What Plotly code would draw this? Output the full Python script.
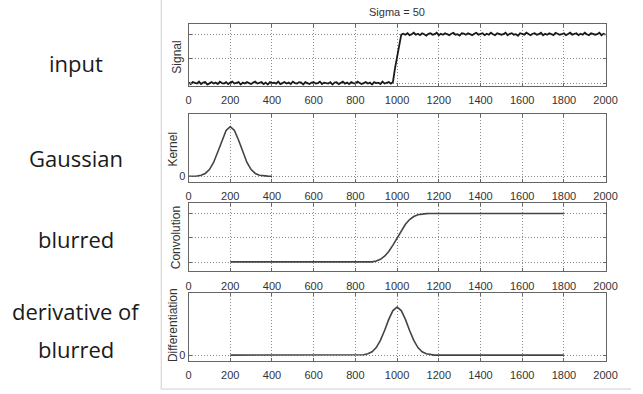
import plotly.graph_objects as go

W, H = 643, 394

# ---------------- data ----------------
x_ticks = [0, 200, 400, 600, 800, 1000, 1200, 1400, 1600, 1800, 2000]
x_tick_text = ["0", "200", "400", "600", "800", "1000", "1200", "1400", "1600", "1800", "2000"]

# input signal sampled every 10 (x = 0..2000)
signal_x = list(range(0, 2001, 10))
signal_low = [
    0.01, -0.02, 0.02, 0.00, -0.01, 0.03, -0.02, 0.01, 0.02, -0.03,
    0.00, 0.02, -0.01, 0.01, -0.02, 0.03, 0.00, -0.01, 0.02, -0.02,
    0.01, 0.03, -0.01, 0.00, 0.02, -0.03, 0.01, -0.01, 0.02, 0.00,
    -0.02, 0.01, 0.03, -0.01, 0.00, 0.02, -0.02, 0.01, -0.03, 0.02,
    0.00, 0.01, -0.01, 0.03, -0.02, 0.00, 0.02, -0.01, 0.01, -0.02,
    0.03, 0.00, -0.01, 0.02, 0.01, -0.03, 0.02, 0.00, -0.02, 0.01,
    0.02, -0.01, 0.00, 0.03, -0.02, 0.01, 0.00, -0.01, 0.02, -0.03,
    0.01, 0.02, -0.02, 0.00, 0.03, -0.01, 0.01, -0.02, 0.02, 0.00,
    -0.01, 0.03, 0.01, -0.02, 0.00, 0.02, -0.01, 0.01, -0.03, 0.02,
    0.00, 0.01, -0.02, 0.03, -0.01, 0.00, 0.02, -0.01,
]
signal_ramp = [0.02, 0.30, 0.56, 0.80, 0.99]
signal_high = [
    1.01, 0.99, 1.02, 0.98, 1.00, 1.03, 0.99, 1.01, 0.98, 1.02,
    1.00, 0.97, 1.01, 1.02, 0.99, 1.00, 1.03, 0.98, 1.01, 0.99,
    1.02, 1.00, 0.98, 1.01, 1.03, 0.99, 1.00, 0.97, 1.02, 1.01,
    0.99, 1.02, 1.00, 0.98, 1.01, 1.03, 0.99, 1.00, 1.02, 0.98,
    1.01, 0.99, 1.03, 1.00, 0.98, 1.02, 1.01, 0.99, 1.00, 1.03,
    0.98, 1.01, 1.02, 0.99, 1.00, 0.97, 1.02, 1.01, 0.99, 1.03,
    1.00, 0.98, 1.01, 1.02, 0.99, 1.00, 1.03, 0.98, 1.01, 0.99,
    1.02, 1.00, 0.98, 1.03, 1.01, 0.99, 1.00, 1.02, 0.98, 1.01,
    1.03, 0.99, 1.00, 1.02, 0.98, 1.01, 0.99, 1.03, 1.00, 0.98,
    1.02, 1.01, 0.99, 1.00, 1.03, 0.98, 1.01, 0.99,
]
signal_y = signal_low + signal_ramp + signal_high

# Gaussian kernel (sigma = 50, centred at 200), sampled every 20
kernel_x = list(range(0, 401, 20))
kernel_y = [0.0003, 0.0015, 0.006, 0.020, 0.056, 0.135, 0.278, 0.487, 0.726, 0.923, 1.0,
            0.923, 0.726, 0.487, 0.278, 0.135, 0.056, 0.020, 0.006, 0.0015, 0.0003]

# blurred signal, x = 200..1800 every 20
conv_x = list(range(200, 1801, 20))
conv_y = [
    0.01, 0.01, 0.005,
    0.0, 0.0, 0.0, 0.0, 0.0, 0.0, 0.0, 0.0, 0.0, 0.0,
    0.0, 0.0, 0.0, 0.0, 0.0, 0.0, 0.0, 0.0, 0.0, 0.0,
    0.0, 0.0, 0.0, 0.0, 0.0, 0.0, 0.0, 0.0, 0.0, 0.0,
    0.004, 0.010, 0.027, 0.062, 0.125, 0.221, 0.352, 0.5,
    0.648, 0.779, 0.875, 0.938, 0.973, 0.990, 0.996,
    1.0, 1.0, 1.0, 1.0, 1.0, 1.0, 1.0, 1.0, 1.0, 1.0, 1.0,
    1.0, 1.0, 1.0, 1.0, 1.0, 1.0, 1.0, 1.0, 1.0, 1.0, 1.0,
    1.0, 1.0, 1.0, 1.0, 1.0, 1.0, 1.0, 1.0, 1.0, 1.0, 1.0,
]

# derivative of blurred signal, x = 200..1800 every 20
diff_x = list(range(200, 1801, 20))
diff_y = [
    0.0, 0.0, 0.0, 0.005, 0.0, 0.006, 0.0, 0.005, 0.0, 0.006, 0.0, 0.004,
    0.0, 0.0, 0.0, 0.0, 0.0, 0.0, 0.0, 0.0, 0.0, 0.0, 0.0, 0.0, 0.0, 0.0,
    0.0, 0.0, 0.0, 0.0, 0.0, 0.0,
    0.008, 0.027, 0.070, 0.157, 0.306, 0.514, 0.744, 0.929, 1.0,
    0.929, 0.744, 0.514, 0.306, 0.157, 0.070, 0.027, 0.008,
    0.0, 0.0, 0.0, 0.0, 0.0, 0.0, 0.005, 0.0, 0.006, 0.0, 0.005, 0.0, 0.004,
    0.0, 0.0, 0.0, 0.0, 0.005, 0.0, 0.004, 0.0, 0.0, 0.0, 0.0, 0.0, 0.0, 0.0,
    0.0, 0.0, 0.0, 0.0, 0.0,
]

row_labels = ["input", "Gaussian", "blurred", "derivative of", "blurred"]
row_label_y = [63, 158, 240, 312, 350]
axis_titles = ["Signal", "Kernel", "Convolution", "Differentiation"]
axis_title_x = [178, 174, 178, 174]
axis_title_y = [57, 149, 238, 326]
plot_title = "Sigma = 50"

# ---------------- layout helpers ----------------
x0_px, x1_px = 190, 617
panels_px = [(24, 86), (114, 182), (204, 272), (294, 362)]
y_ranges = [[-0.055, 1.21], [-0.107, 1.26], [-0.184, 1.204], [-0.125, 1.29]]
y_tickvals = [[0, 0.5, 1], [0], [0, 0.5, 1], [0]]
y_ticktext = [["", "", ""], ["0"], ["", "", ""], ["0"]]

AX_FONT = dict(family="Liberation Sans, Arial, sans-serif", size=11, color="#333333")
TITLE_FONT = dict(family="Liberation Sans, Arial, sans-serif", size=12, color="#333333")
GRID = "#8a8a8a"
AXLINE = "#666666"

fig = go.Figure()
series = [
    (signal_x, signal_y, "#1a1a1a", 1.8),
    (kernel_x, kernel_y, "#444444", 1.6),
    (conv_x, conv_y, "#444444", 1.6),
    (diff_x, diff_y, "#444444", 1.6),
]
for i, (xs, ys, col, w) in enumerate(series):
    suffix = "" if i == 0 else str(i + 1)
    fig.add_trace(go.Scatter(x=xs, y=ys, mode="lines", line=dict(color=col, width=w),
                             xaxis="x" + suffix, yaxis="y" + suffix, showlegend=False,
                             hoverinfo="skip"))

layout = dict(
    width=W, height=H, margin=dict(l=0, r=0, t=0, b=0),
    paper_bgcolor="white", plot_bgcolor="white", showlegend=False,
)
for i, (top, bot) in enumerate(panels_px):
    suffix = "" if i == 0 else str(i + 1)
    layout["xaxis" + suffix] = dict(
        domain=[x0_px / W, x1_px / W], range=[0, 2000], anchor="y" + suffix,
        tickvals=x_ticks, ticktext=x_tick_text, tickfont=AX_FONT, ticklabelstandoff=4,
        showgrid=True, gridcolor=GRID, griddash="1px,2px", gridwidth=1,
        showline=True, linecolor=AXLINE, linewidth=1, mirror="ticks",
        ticks="inside", ticklen=3, tickcolor=AXLINE, zeroline=False, fixedrange=True,
    )
    layout["yaxis" + suffix] = dict(
        domain=[1 - bot / H, 1 - top / H], range=y_ranges[i], anchor="x" + suffix,
        tickvals=y_tickvals[i], ticktext=y_ticktext[i], tickfont=AX_FONT,
        showgrid=True, gridcolor=GRID, griddash="1px,2px", gridwidth=1,
        showline=True, linecolor=AXLINE, linewidth=1, mirror="ticks",
        ticks="inside", ticklen=3, tickcolor=AXLINE, zeroline=False, fixedrange=True,
    )
fig.update_layout(**layout)

annotations = []
# plot title
annotations.append(dict(text=plot_title, x=(x0_px + x1_px) / 2 / W, y=1 - 12 / H,
                        xref="paper", yref="paper", showarrow=False,
                        font=dict(family="Liberation Sans, Arial, sans-serif", size=11, color="#333333"),
                        xanchor="center", yanchor="middle"))
# y axis titles
for t, xc, yc in zip(axis_titles, axis_title_x, axis_title_y):
    annotations.append(dict(text=t, x=xc / W, y=1 - yc / H, xref="paper", yref="paper",
                            showarrow=False, textangle=-90, font=TITLE_FONT,
                            xanchor="center", yanchor="middle"))
# left row labels
for t, yc in zip(row_labels, row_label_y):
    annotations.append(dict(text=t, x=75 / W, y=1 - yc / H, xref="paper", yref="paper",
                            showarrow=False,
                            font=dict(family="Open Sans, sans-serif", size=22, color="#1a1a1a"),
                            xanchor="center", yanchor="middle"))
fig.update_layout(annotations=annotations)

# light frame around the embedded figure (left and bottom edges)
fig.add_shape(type="line", xref="paper", yref="paper", x0=162 / W, x1=162 / W,
              y0=1 - 390 / H, y1=1.0, line=dict(color="#cfcfcf", width=1))
fig.add_shape(type="line", xref="paper", yref="paper", x0=162 / W, x1=1.0,
              y0=1 - 390 / H, y1=1 - 390 / H, line=dict(color="#cfcfcf", width=1))

fig.write_html("out.html", config={"displayModeBar": False},
               post_script="document.body.style.margin='0';document.body.style.overflow='hidden';")
